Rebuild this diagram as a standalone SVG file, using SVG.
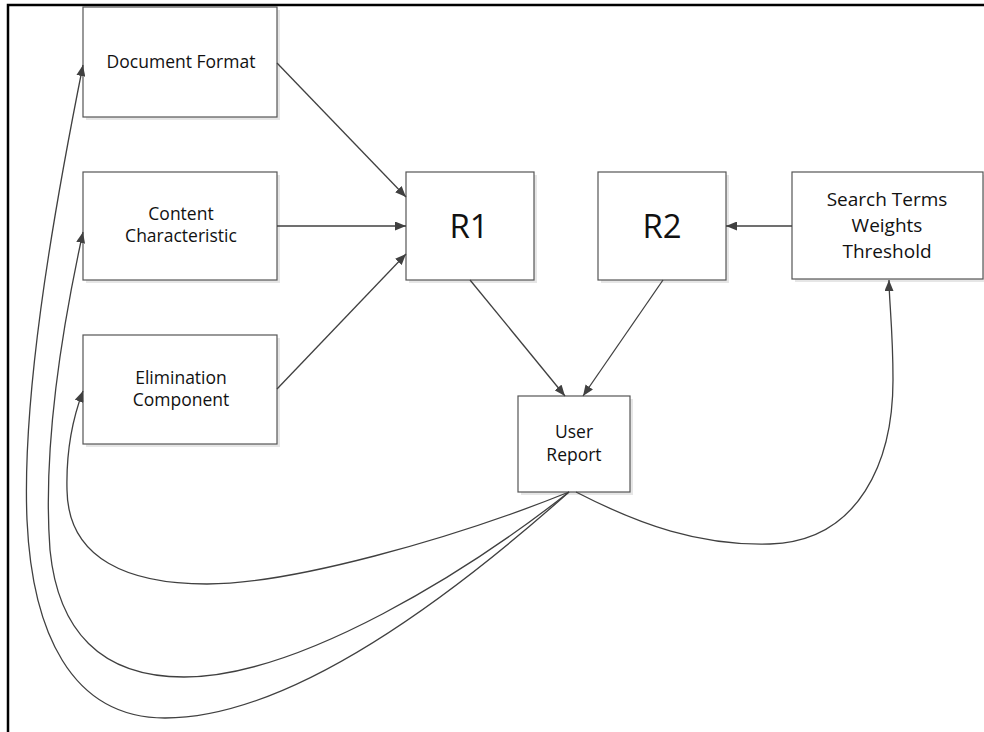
<svg xmlns="http://www.w3.org/2000/svg" width="984" height="732" viewBox="0 0 984 732">
<style>
.box{fill:#fff;stroke:#555;stroke-width:1.2}
.sh{fill:#e6e6e6}
.t{font-family:"Open Sans","Liberation Sans",sans-serif;fill:#111;text-anchor:middle}
.s{font-size:17.5px}
.c{fill:none;stroke:#404040;stroke-width:1.3}
</style>
<defs>
<marker id="ah" markerUnits="userSpaceOnUse" markerWidth="12" markerHeight="9" refX="11" refY="4.5" orient="auto">
<path d="M0,0 L11,4.5 L0,9 z" fill="#404040"/>
</marker>
</defs>
<rect width="984" height="732" fill="#fff"/>
<path d="M8,732 V5 H984" fill="none" stroke="#000" stroke-width="2.5"/>

<g id="docformat">
<rect class="sh" x="86" y="10" width="194" height="110"/>
<rect class="box" x="83" y="7" width="194" height="110"/>
<text class="t s" x="181" y="68">Document Format</text>
</g>
<g id="content">
<rect class="sh" x="86" y="175" width="194" height="108"/>
<rect class="box" x="83" y="172" width="194" height="108"/>
<text class="t s" x="181" y="220">Content</text>
<text class="t s" x="181" y="242">Characteristic</text>
</g>
<g id="elimination">
<rect class="sh" x="86" y="338" width="194" height="109"/>
<rect class="box" x="83" y="335" width="194" height="109"/>
<text class="t s" x="181" y="384">Elimination</text>
<text class="t s" x="181" y="406">Component</text>
</g>
<g id="r1">
<rect class="sh" x="409" y="175" width="128" height="108"/>
<rect class="box" x="406" y="172" width="128" height="108"/>
<text class="t" x="469" y="238" font-size="33">R1</text>
</g>
<g id="r2">
<rect class="sh" x="601" y="175" width="128" height="108"/>
<rect class="box" x="598" y="172" width="128" height="108"/>
<text class="t" x="662" y="238" font-size="33">R2</text>
</g>
<g id="search">
<rect class="sh" x="795" y="175" width="191" height="107"/>
<rect class="box" x="792" y="172" width="191" height="107"/>
<text class="t" x="887" y="206" font-size="19">Search Terms</text>
<text class="t" x="887" y="232" font-size="19">Weights</text>
<text class="t" x="887" y="258" font-size="19">Threshold</text>
</g>
<g id="userreport">
<rect class="sh" x="521" y="399" width="112" height="96"/>
<rect class="box" x="518" y="396" width="112" height="96"/>
<text class="t s" x="574" y="438">User</text>
<text class="t s" x="574" y="461">Report</text>
</g>

<g id="connectors">
<path class="c" d="M277,63 L406,197" marker-end="url(#ah)"/>
<path class="c" d="M277,226 L406,226" marker-end="url(#ah)"/>
<path class="c" d="M277,389 L406,254" marker-end="url(#ah)"/>
<path class="c" d="M792,226 L726,226" marker-end="url(#ah)"/>
<path class="c" d="M470,280 L565,396" marker-end="url(#ah)"/>
<path class="c" d="M663,280 L583,396" marker-end="url(#ah)"/>
<path class="c" d="M569,492 C470,580 300,718 165,718 C70,718 32,630 27,520 C22,400 50,230 83,65" marker-end="url(#ah)"/>
<path class="c" d="M569,492 C470,570 300,677 184,677 C100,677 58,630 50,550 C44,470 55,360 83,232" marker-end="url(#ah)"/>
<path class="c" d="M569,492 C450,540 290,584 207,584 C130,584 68,560 67,490 C66,450 72,420 83,391" marker-end="url(#ah)"/>
<path class="c" d="M576,492 C640,525 700,546 770,544 C860,541 893,460 893,380 C893,330 889,300 889,280" marker-end="url(#ah)"/>
</g>
</svg>
